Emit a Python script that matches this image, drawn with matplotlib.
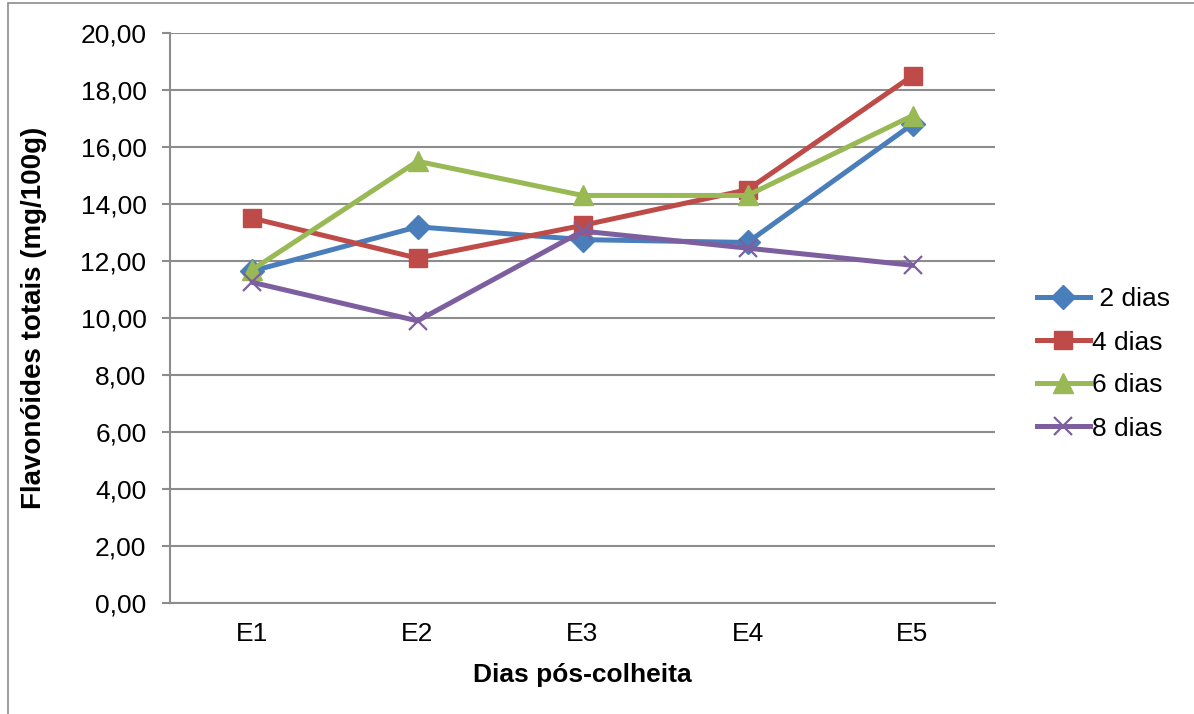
import matplotlib.pyplot as plt
from matplotlib.patches import Rectangle

plt.rcParams['font.family'] = ['Liberation Sans', 'DejaVu Sans']

categories = ['E1', 'E2', 'E3', 'E4', 'E5']
dias_2 = [11.65, 13.2, 12.75, 12.65, 16.8]
dias_4 = [13.5, 12.1, 13.25, 14.5, 18.5]
dias_6 = [11.7, 15.5, 14.3, 14.3, 17.1]
dias_8 = [11.25, 9.9, 13.05, 12.45, 11.85]
series_labels = [' 2 dias', '4 dias', '6 dias', '8 dias']
y_ticks = [0, 2, 4, 6, 8, 10, 12, 14, 16, 18, 20]

fig = plt.figure(figsize=(11.94, 7.14), dpi=100)
ax = fig.add_axes([170 / 1194, 1 - 603 / 714, (995 - 170) / 1194, (603 - 33) / 714])

# outer chart border (Excel style)
fig.patches.append(Rectangle((8 / 1194, -0.1), 1.2, 1 - 3 / 714 + 0.1, transform=fig.transFigure,
                             fill=False, edgecolor='#8c8c8c', linewidth=1.2))

x = range(len(categories))
styles = [
    (dias_2, '#4A7EBB', 'D', 12, {}),
    (dias_4, '#BE4B48', 's', 13, {}),
    (dias_6, '#98B954', '^', 14, {}),
    (dias_8, '#7D5FA0', 'x', 13, {'markeredgewidth': 1.6}),
]
for (vals, color, marker, ms, extra), label in zip(styles, series_labels):
    ax.plot(x, vals, color=color, linewidth=3.6, marker=marker, markersize=ms,
            markerfacecolor=color, markeredgecolor=color, label=label, zorder=3, **extra)

ax.set_xlim(-0.5, len(categories) - 0.5)
ax.set_ylim(0, 20)
ax.set_yticks(y_ticks)
ax.set_yticklabels([f'{v:.2f}'.replace('.', ',') for v in y_ticks])
ax.set_xticks(list(x))
ax.set_xticklabels(categories)

ax.grid(axis='y', color='#8c8c8c', linewidth=1.5, zorder=0)
ax.set_axisbelow(True)
for side in ['top', 'right']:
    ax.spines[side].set_visible(False)
for side in ['left', 'bottom']:
    ax.spines[side].set_color('#8c8c8c')
    ax.spines[side].set_linewidth(1.5)

ax.tick_params(axis='y', length=6, width=1.5, color='#8c8c8c', labelsize=19, pad=11)
ax.tick_params(axis='x', length=0, labelsize=19, pad=14)

ax.set_xlabel('Dias pós-colheita', fontsize=19, fontweight='bold', labelpad=12)
ax.set_ylabel('Flavonóides totais (mg/100g)', fontsize=20, fontweight='bold', labelpad=24)

fig.legend(loc='center left', bbox_to_anchor=(1037 / 1194, 1 - 364 / 714), frameon=False,
           fontsize=19, handlelength=2.0, handletextpad=0.1, labelspacing=0.72,
           borderpad=0, borderaxespad=0)

fig.savefig('out.png', dpi=100)
